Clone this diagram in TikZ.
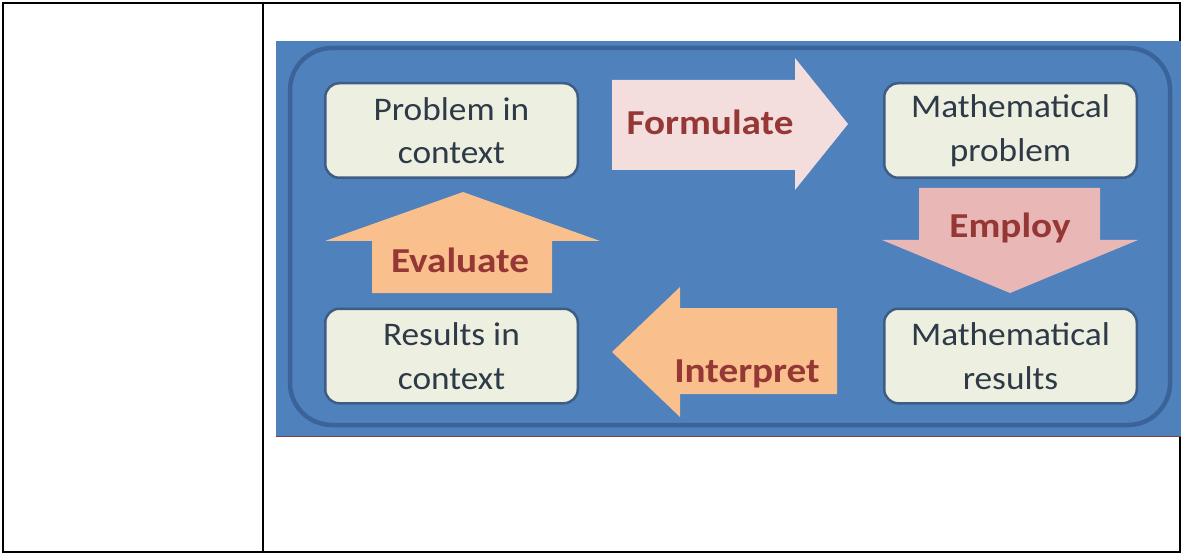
\documentclass[tikz,border=0pt]{standalone}
\usepackage{fontspec}
\newfontfamily\boxfont[FakeStretch=1.07]{Carlito}
\newfontfamily\arrowfont[FakeStretch=1.12]{Carlito}
\definecolor{panel}{HTML}{4F81BD}
\definecolor{innerline}{HTML}{3A6499}
\definecolor{boxfill}{HTML}{EDF0E0}
\definecolor{boxline}{HTML}{3E5D85}
\definecolor{boxtext}{HTML}{2E3A48}
\definecolor{formfill}{HTML}{F3DEDD}
\definecolor{empfill}{HTML}{E8B7B6}
\definecolor{orangefill}{HTML}{F9BF8C}
\definecolor{arrowred}{HTML}{953735}
\definecolor{darkred}{HTML}{7F3F3F}
\begin{document}
\begin{tikzpicture}[x=1pt,y=-1pt,
  boxnode/.style={draw=boxline, line width=2.5pt, fill=boxfill, rounded corners=14pt,
    minimum width=252.5pt, minimum height=94.5pt, align=center, text=boxtext,
    font=\boxfont\fontsize{33}{43.5}\selectfont, inner sep=0pt},
  arrowtext/.style={font=\arrowfont\bfseries\fontsize{35}{40}\selectfont, text=arrowred,
    inner sep=0pt, anchor=base}]
\useasboundingbox (0,0) rectangle (1182,553);
% table lines
\draw[line width=2.6pt] (3,3) rectangle (1180,552);
\draw[line width=2.6pt] (263,3) -- (263,552);
% panel
\fill[panel] (276,41) rectangle (1181,436);
\draw[darkred, line width=1pt] (276,436.5) -- (1181,436.5);
\draw[innerline, line width=4.5pt, rounded corners=42pt] (290,48) rectangle (1170,425);
% boxes
\node[boxnode] (pic) at (451.5,130.5) {Problem in\\context};
\node[boxnode] (mp) at (1010.5,130.5) {Mathematical\\problem};
\node[boxnode] (ric) at (451.5,356) {Results in\\context};
\node[boxnode] (mr) at (1010.5,356) {Mathematical\\results};
% block arrows
\fill[formfill] (612,80) -- (795,80) -- (795,58) -- (848,124) -- (795,190) -- (795,170) -- (612,170) -- cycle;
\fill[empfill] (919,188) -- (1100,188) -- (1100,240) -- (1138,240) -- (1010,293) -- (882,240) -- (919,240) -- cycle;
\fill[orangefill] (372,293) -- (372,241) -- (325,241) -- (463,192) -- (600,241) -- (552,241) -- (552,293) -- cycle;
\fill[orangefill] (837,308) -- (680,308) -- (680,287) -- (612,352) -- (680,417) -- (680,394) -- (837,394) -- cycle;
% arrow labels
\node[arrowtext] (ft) at (710,135) {Formulate};
\node[arrowtext] (et) at (1010,237) {Employ};
\node[arrowtext] (evt) at (460,272) {Evaluate};
\node[arrowtext] (it) at (747,382) {Interpret};
\end{tikzpicture}
\end{document}
